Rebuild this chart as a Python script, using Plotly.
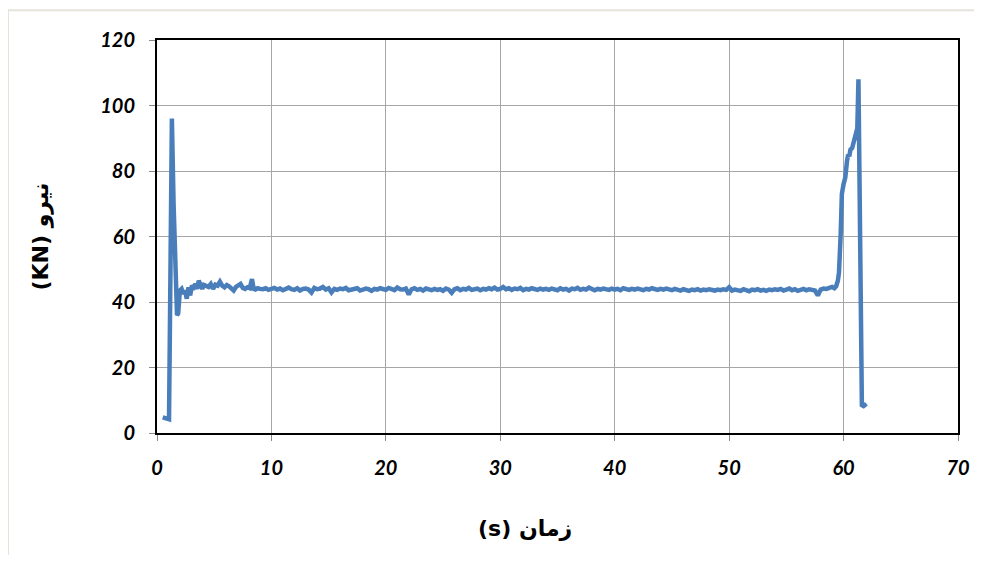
import plotly.graph_objects as go

# ---- data ----
t_start = [0.5, 0.8, 1.05, 1.15, 1.3, 1.45, 1.6, 1.75, 1.85, 2.0, 2.15, 2.3, 2.45, 2.6, 2.75,
           2.9, 3.05, 3.2, 3.35, 3.5, 3.65, 3.8, 3.95, 4.1, 4.3, 4.5, 4.7, 4.9, 5.1, 5.3,
           5.5, 5.7, 5.9, 6.1, 6.3, 6.5, 6.7, 6.9, 7.1, 7.3, 7.5, 7.7, 7.9, 8.1, 8.3,
           8.45, 8.6, 8.8, 9.0]
f_start = [4.8, 4.3, 4.2, 40, 96, 70, 45, 36, 36.5, 43.5, 44, 42.5, 43.5, 41, 44.5,
           42, 45, 44.5, 45.5, 44, 46.5, 45, 44, 45.2, 45, 44.6, 45.5, 44, 45.3, 45,
           46.2, 45, 44.5, 45.2, 44.8, 44.2, 43.5, 44.6, 45, 45.5, 44.3, 44, 44.5, 44.2, 47,
           44, 43.8, 44.2, 44]

t_mid = [
    9.25, 9.5, 9.75, 10.0, 10.25, 10.5, 10.75, 11.0, 11.25, 11.5, 11.75, 12.0, 12.25, 12.5, 12.75, 13.0, 13.25, 13.5, 13.75, 14.0,
    14.25, 14.5, 14.75, 15.0, 15.25, 15.5, 15.75, 16.0, 16.25, 16.5, 16.75, 17.0, 17.25, 17.5, 17.75, 18.0, 18.25, 18.5, 18.75, 19.0,
    19.25, 19.5, 19.75, 20.0, 20.25, 20.5, 20.75, 21.0, 21.25, 21.5, 21.75, 22.0, 22.25, 22.5, 22.75, 23.0, 23.25, 23.5, 23.75, 24.0,
    24.25, 24.5, 24.75, 25.0, 25.25, 25.5, 25.75, 26.0, 26.25, 26.5, 26.75, 27.0, 27.25, 27.5, 27.75, 28.0, 28.25, 28.5, 28.75, 29.0,
    29.25, 29.5, 29.75, 30.0, 30.25, 30.5, 30.75, 31.0, 31.25, 31.5, 31.75, 32.0, 32.25, 32.5, 32.75, 33.0, 33.25, 33.5, 33.75, 34.0,
    34.25, 34.5, 34.75, 35.0, 35.25, 35.5, 35.75, 36.0, 36.25, 36.5, 36.75, 37.0, 37.25, 37.5, 37.75, 38.0, 38.25, 38.5, 38.75, 39.0,
    39.25, 39.5, 39.75, 40.0, 40.25, 40.5, 40.75, 41.0, 41.25, 41.5, 41.75, 42.0, 42.25, 42.5, 42.75, 43.0, 43.25, 43.5, 43.75, 44.0,
    44.25, 44.5, 44.75, 45.0, 45.25, 45.5, 45.75, 46.0, 46.25, 46.5, 46.75, 47.0, 47.25, 47.5, 47.75, 48.0, 48.25, 48.5, 48.75, 49.0,
    49.25, 49.5, 49.75, 50.0, 50.25, 50.5, 50.75, 51.0, 51.25, 51.5, 51.75, 52.0, 52.25, 52.5, 52.75, 53.0, 53.25, 53.5, 53.75, 54.0,
    54.25, 54.5, 54.75, 55.0, 55.25, 55.5, 55.75, 56.0, 56.25, 56.5, 56.75, 57.0, 57.25, 57.5, 57.75, 58.0, 58.25, 58.5, 58.75, 59.0,
]
f_mid = [
    43.9, 44.2, 43.7, 44.0, 44.3, 43.8, 44.1, 43.6, 44.0, 44.4, 43.9, 43.7, 44.2, 43.5, 44.0, 44.1, 43.8, 42.9, 44.3, 43.9,
    44.1, 44.6, 43.8, 44.2, 42.9, 44.0, 43.7, 44.1, 43.9, 44.3, 43.6, 43.9, 44.0, 44.2, 43.5, 43.8, 44.1, 43.9, 43.4, 44.0,
    43.8, 44.2, 43.9, 43.7, 44.3, 44.0, 43.6, 44.4, 43.9, 43.8, 44.1, 42.3, 43.9, 44.2, 43.7, 44.0, 43.5, 44.1, 43.8, 43.6,
    44.0, 43.7, 43.9, 43.4, 44.1, 43.8, 42.8, 43.9, 44.2, 43.6, 44.0, 43.8, 44.3, 43.7, 43.9, 44.1, 43.6, 44.0, 43.8, 44.2,
    43.9, 44.4, 43.8, 44.0, 44.6, 43.9, 44.2, 43.7, 44.1, 43.9, 44.3, 43.6, 44.0, 43.8, 44.2, 43.9, 43.7, 44.1, 43.8, 44.0,
    43.7, 44.1, 43.9, 43.6, 44.2, 43.8, 44.0, 43.5, 44.1, 43.9, 44.3, 43.7, 44.0, 43.8, 44.4, 43.9, 43.6, 44.0, 43.8, 44.1,
    43.9, 43.7, 44.1, 43.8, 44.0, 43.6, 44.2, 43.9, 43.7, 44.0, 43.8, 44.1, 43.9, 43.6, 44.0, 43.8, 44.2, 43.9, 43.7, 44.0,
    43.8, 44.1, 43.9, 43.6, 44.0, 43.8, 43.5, 43.9, 43.7, 43.4, 43.8, 43.6, 43.9, 43.5, 43.8, 43.6, 43.9, 43.7, 43.5, 43.8,
    43.6, 43.9, 43.7, 44.5, 43.5, 43.8, 43.6, 43.4, 43.9, 43.7, 43.3, 43.8, 43.6, 43.9, 43.5, 43.7, 43.4, 43.8, 43.6, 43.9,
    43.7, 44.0, 43.5, 43.8, 44.1, 43.6, 43.9, 43.4, 43.8, 44.0, 43.6, 43.9, 43.7, 43.5, 42.0, 43.8, 44.1, 44.0, 44.3, 44.6,
]

t_end = [59.2, 59.35, 59.5, 59.6, 59.75, 59.85, 60.0, 60.15, 60.3, 60.4, 60.5, 60.6, 60.75,
         60.9, 61.05, 61.2, 61.3, 61.45, 61.6, 61.75, 61.9, 62.0]
f_end = [44.2, 44.8, 46.5, 49, 61, 73, 76, 78, 83, 85, 84.5, 86.5, 87,
         89.5, 91, 93, 108, 63, 8.5, 8.2, 8.6, 8.9]

x_ticks = [0, 10, 20, 30, 40, 50, 60, 70]
y_ticks = [0, 20, 40, 60, 80, 100, 120]
x_title = "(s) زمان"
y_title = "(KN) نیرو"

time = t_start + t_mid + t_end
force = f_start + f_mid + f_end

fig = go.Figure()
fig.add_trace(go.Scatter(
    x=time, y=force, mode="lines",
    line=dict(color="#4A7EBB", width=4.5),
    hoverinfo="x+y", showlegend=False,
))

tick_font = dict(family="Lato, 'Open Sans', sans-serif", size=20, color="black",
                 weight="bold", style="italic")

fig.update_xaxes(
    range=[0, 70], tickvals=x_ticks, ticks="outside", ticklen=6, tickcolor="#888888",
    showgrid=True, gridcolor="#A6A6A6", gridwidth=1,
    showline=True, linecolor="black", linewidth=2, mirror=True,
    tickfont=tick_font, ticklabelstandoff=10, zeroline=False,
)
fig.update_yaxes(
    range=[0, 120], tickvals=y_ticks, ticks="outside", ticklen=6, tickcolor="#888888",
    showgrid=True, gridcolor="#A6A6A6", gridwidth=1,
    showline=True, linecolor="black", linewidth=2, mirror=True,
    tickfont=tick_font, ticklabelstandoff=10, zeroline=False,
)

title_font = dict(family="'DejaVu Sans', sans-serif", size=22, color="black", weight="bold")

# page body has an 8px margin, so the figure is laid out 8px in from the window edge
fig.update_layout(
    width=966, height=547,
    margin=dict(l=149, r=16, t=32, b=122, autoexpand=False),
    paper_bgcolor="white", plot_bgcolor="white",
    annotations=[
        dict(text=x_title, xref="paper", yref="paper", x=0.46, y=-0.242,
             showarrow=False, font=title_font, xanchor="center", yanchor="middle"),
        dict(text=y_title, xref="paper", yref="paper", x=-0.146, y=0.5,
             showarrow=False, font=title_font, textangle=-90,
             xanchor="center", yanchor="middle"),
    ],
    shapes=[
        dict(type="line", xref="paper", yref="paper", x0=-0.186, x1=1.03, y0=1.076, y1=1.076,
             line=dict(color="#E6E4DA", width=2)),
        dict(type="line", xref="paper", yref="paper", x0=-0.186, x1=-0.186, y0=1.076, y1=-0.33,
             line=dict(color="#E6E4DA", width=2)),
    ],
)

fig.write_html("out.html")
